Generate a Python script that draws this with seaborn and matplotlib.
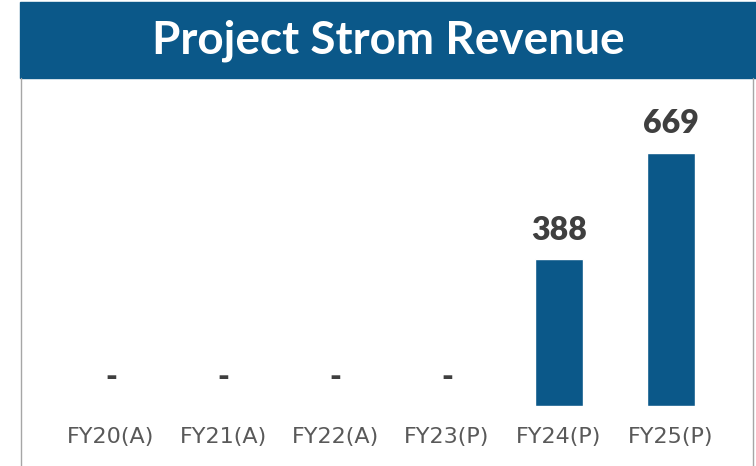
import matplotlib
matplotlib.use("Agg")
import matplotlib.pyplot as plt
import seaborn as sns
import pandas as pd
from matplotlib.patches import Rectangle
from matplotlib.lines import Line2D

# Chart data
categories = ["FY20(A)", "FY21(A)", "FY22(A)", "FY23(P)", "FY24(P)", "FY25(P)"]
revenue = [0, 0, 0, 0, 388, 669]
title = "Project Strom Revenue"

BLUE = "#0B5889"
LABEL_GREY = "#595959"
VALUE_GREY = "#3F3F3F"
BORDER_GREY = "#A6A6A6"

sns.set_theme(style="white")
plt.rcParams["font.family"] = ["Lato", "DejaVu Sans"]

W, H = 756, 466
fig = plt.figure(figsize=(W / 100, H / 100), dpi=100)

# title banner
fig.patches.append(Rectangle((20 / W, 1 - 78 / H), 1 - 20 / W, 76 / H,
                             transform=fig.transFigure, color=BLUE, zorder=0))
fig.text(388 / W, 1 - 41 / H, title, ha="center", va="center",
         color="white", fontsize=33, fontweight="bold")

# side borders
for xb in (21 / W, 753 / W):
    fig.add_artist(Line2D([xb, xb], [0, 1 - 78 / H], transform=fig.transFigure,
                          color=BORDER_GREY, lw=1))

ax = fig.add_axes([55 / W, 60 / H, 672 / W, 328 / H])
df = pd.DataFrame({"period": categories, "revenue": revenue})
sns.barplot(data=df, x="period", y="revenue", color=BLUE, saturation=1,
            width=0.43, ax=ax)

ax.set_xlim(-0.5, 5.5)
ax.set_ylim(0, 867)
ax.set_xlabel("")
ax.set_ylabel("")
ax.set_yticks([])
ax.tick_params(axis="x", length=0, pad=15, labelsize=16, labelcolor=LABEL_GREY)
for lbl in ax.get_xticklabels():
    lbl.set_fontfamily(["DejaVu Sans"])
sns.despine(ax=ax, left=True, bottom=True)
ax.patch.set_alpha(0)

for i, v in enumerate(revenue):
    ax.annotate(f"{v:,.0f}" if v else "-", xy=(i, v), xytext=(0, 14),
                textcoords="offset points", ha="center", va="baseline",
                fontsize=23, fontweight="heavy", color=VALUE_GREY)

fig.savefig("out.png", dpi=100)
